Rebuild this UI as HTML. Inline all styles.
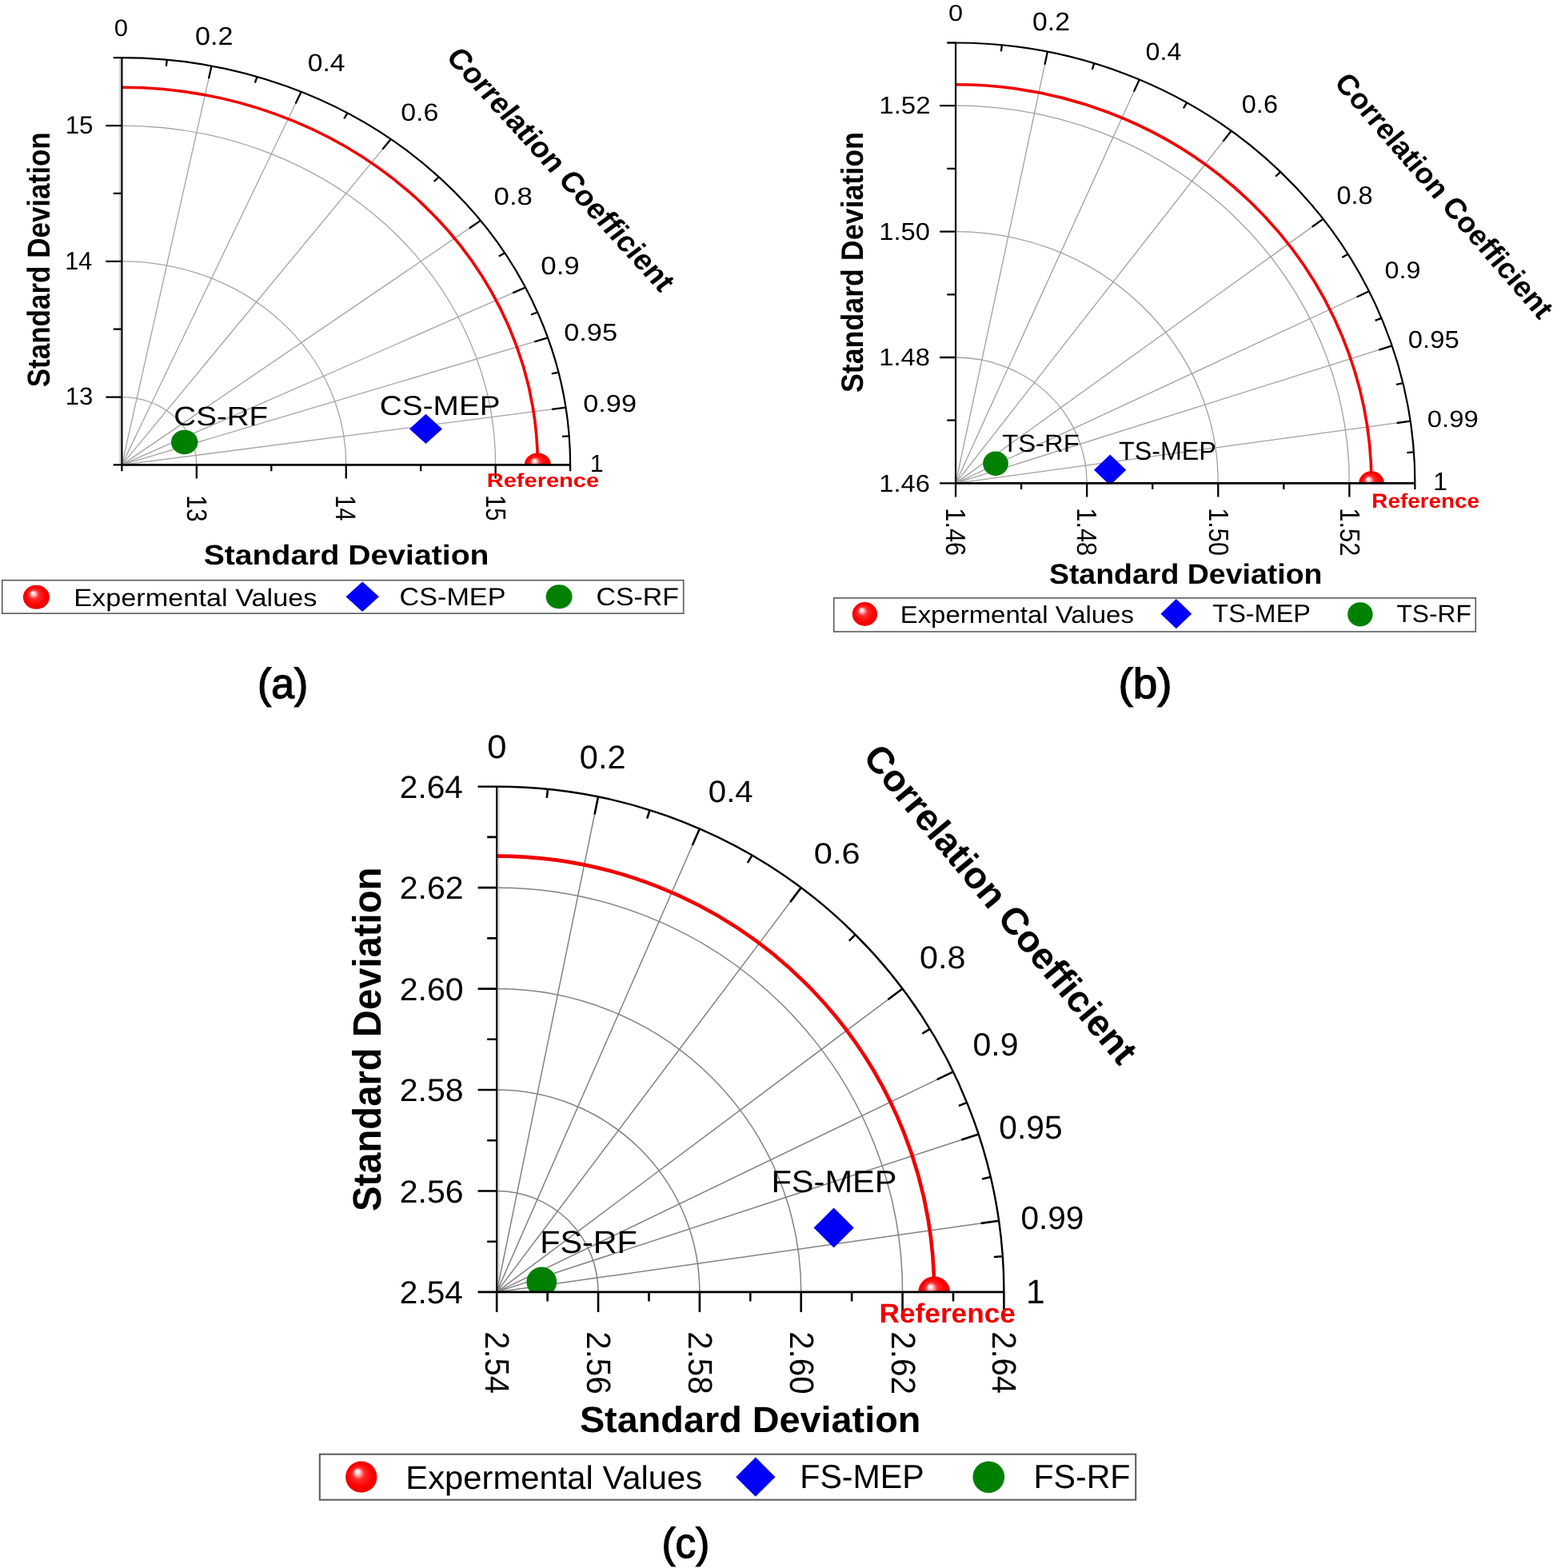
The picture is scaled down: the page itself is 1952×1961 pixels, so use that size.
<!DOCTYPE html>
<html><head><meta charset="utf-8"><title>Taylor diagrams</title>
<style>html,body{margin:0;padding:0;background:#fff;}svg{display:block;}text{text-rendering:geometricPrecision;}</style></head>
<body>
<svg width="1952" height="1961" viewBox="0 0 1952 1961">
<rect width="100%" height="100%" fill="#fff"/>
<defs><radialGradient id="sph" cx="0.5" cy="0.5" r="0.5" fx="0.36" fy="0.32"><stop offset="0" stop-color="#ffffff"/><stop offset="0.12" stop-color="#ffe0e0"/><stop offset="0.38" stop-color="#ff2a2a"/><stop offset="0.75" stop-color="#ff0000"/><stop offset="1" stop-color="#e60000"/></radialGradient></defs>
<clipPath id="clipa"><rect x="112.4" y="0" width="640.7" height="581.4"/></clipPath>
<path d="M149.8 581.4V72.21" fill="none" stroke="#d6d6d6" stroke-width="2"/>
<path d="M152.4 581.4L264.54 82.5M152.4 581.4L376.68 114.72M152.4 581.4L488.82 174.05M152.4 581.4L600.96 275.89M152.4 581.4L657.03 359.45M152.4 581.4L685.06 422.41M152.4 581.4L707.49 509.57" fill="none" stroke="#a4a4a4" stroke-width="1.3"/>
<path d="M152.4 496.53A93.45 84.86 0 0 1 245.85 581.4" fill="none" stroke="#a4a4a4" stroke-width="1.3"/>
<path d="M152.4 326.81A280.35 254.59 0 0 1 432.75 581.4" fill="none" stroke="#a4a4a4" stroke-width="1.3"/>
<path d="M152.4 157.07A467.25 424.32 0 0 1 619.65 581.4" fill="none" stroke="#a4a4a4" stroke-width="1.3"/>
<path d="M152.4 109.21A519.96 472.19 0 0 1 672.36 581.4" fill="none" stroke="#f00000" stroke-width="3.6"/>
<g clip-path="url(#clipa)">
<ellipse cx="230.7" cy="553" rx="16.74" ry="15.2" fill="#008000"/>
<path d="M512.02 536.4L532.5 517.8L552.98 536.4L532.5 555Z" fill="#0000f8"/>
<ellipse cx="672.36" cy="581.4" rx="16.52" ry="15" fill="url(#sph)"/>
</g>
<path d="M152.4 581.4V72.21" fill="none" stroke="#000" stroke-width="2.2"/>
<path d="M152.4 581.4H713.1" fill="none" stroke="#000" stroke-width="2.6"/>
<path d="M152.4 72.21A560.7 509.19 0 0 1 713.1 581.4" fill="none" stroke="#000" stroke-width="2.2"/>
<path d="M152.4 581.4H141.7M152.4 581.4V589.2M152.4 496.53H132.4M245.85 581.4V598.4M152.4 411.67H141.7M339.3 581.4V589.2M152.4 326.81H132.4M432.75 581.4V598.4M152.4 241.94H141.7M526.2 581.4V589.2M152.4 157.07H132.4M619.65 581.4V598.4M152.4 72.21H141.7M713.1 581.4V589.2M264.54 82.5L261.02 98.17M376.68 114.72L369.63 129.38M488.82 174.05L478.25 186.85M600.96 275.89L586.87 285.49M657.03 359.45L641.17 366.42M685.06 422.41L668.33 427.4M707.49 509.57L690.05 511.83M208.76 74.79L207.87 82.75M321.54 95.93L318.89 103.56M434.65 141.43L430.21 148.34M548.87 221.35L542.65 227.01M631.21 316.44L623.69 320.6M672.2 390.5L664.04 393.5M698.39 465.54L689.81 467.36M711.7 545.39L702.91 545.96" fill="none" stroke="#000" stroke-width="2.3"/>
<clipPath id="clipb"><rect x="1155.05" y="0" width="654.35" height="604.4"/></clipPath>
<path d="M1195.05 604.4L1309.92 64.63M1195.05 604.4L1424.79 99.49M1195.05 604.4L1539.66 163.68M1195.05 604.4L1654.53 273.86M1195.05 604.4L1711.97 364.27M1195.05 604.4L1740.68 432.38M1195.05 604.4L1763.66 526.69" fill="none" stroke="#a0a0a0" stroke-width="1.3"/>
<path d="M1195.05 447A164.1 157.4 0 0 1 1359.15 604.4" fill="none" stroke="#a0a0a0" stroke-width="1.3"/>
<path d="M1195.05 289.6A328.2 314.8 0 0 1 1523.25 604.4" fill="none" stroke="#a0a0a0" stroke-width="1.3"/>
<path d="M1195.05 132.2A492.3 472.2 0 0 1 1687.35 604.4" fill="none" stroke="#a0a0a0" stroke-width="1.3"/>
<path d="M1195.05 105.68A519.95 498.72 0 0 1 1715 604.4" fill="none" stroke="#f00000" stroke-width="3.6"/>
<g clip-path="url(#clipb)">
<ellipse cx="1245" cy="579.7" rx="15.85" ry="15.2" fill="#008000"/>
<path d="M1367.98 587.7L1388.1 568.4L1408.22 587.7L1388.1 607Z" fill="#0000f8"/>
<ellipse cx="1715" cy="604.4" rx="15.85" ry="15.2" fill="url(#sph)"/>
</g>
<path d="M1195.05 604.4V53.5" fill="none" stroke="#000" stroke-width="2.2"/>
<path d="M1195.05 604.4H1769.4" fill="none" stroke="#000" stroke-width="2.6"/>
<path d="M1195.05 53.5A574.35 550.9 0 0 1 1769.4 604.4" fill="none" stroke="#000" stroke-width="2.2"/>
<path d="M1195.05 604.4H1175.15M1195.05 604.4V621.4M1195.05 525.7H1184.25M1277.1 604.4V612.1M1195.05 447H1175.15M1359.15 604.4V621.4M1195.05 368.3H1184.25M1441.2 604.4V612.1M1195.05 289.6H1175.15M1523.25 604.4V621.4M1195.05 210.9H1184.25M1605.3 604.4V612.1M1195.05 132.2H1175.15M1687.35 604.4V621.4M1195.05 53.5H1184.25M1769.4 604.4V612.1M1309.92 64.63L1306.48 80.8M1424.79 99.49L1417.91 114.61M1539.66 163.68L1529.34 176.88M1654.53 273.86L1640.77 283.76M1711.97 364.27L1696.48 371.46M1740.68 432.38L1724.34 437.53M1763.66 526.69L1746.63 529.01M1252.78 56.29L1251.92 64.45M1368.31 79.16L1365.73 86.98M1484.17 128.39L1479.86 135.47M1601.18 214.85L1595.13 220.65M1685.52 317.74L1678.22 322M1727.51 397.87L1719.58 400.94M1754.33 479.05L1746.01 480.91M1767.96 565.45L1759.43 566.03" fill="none" stroke="#000" stroke-width="2.3"/>
<clipPath id="clipc"><rect x="581.2" y="0" width="714.2" height="1615.9"/></clipPath>
<path d="M623.6 1615.9V983.7" fill="none" stroke="#d6d6d6" stroke-width="2"/>
<path d="M621.2 1615.9L748.04 996.47M621.2 1615.9L874.88 1036.48M621.2 1615.9L1001.72 1110.14M621.2 1615.9L1128.56 1236.58M621.2 1615.9L1191.98 1340.33M621.2 1615.9L1223.69 1418.5M621.2 1615.9L1249.06 1526.72" fill="none" stroke="#828282" stroke-width="1.5"/>
<path d="M621.2 1489.46A126.84 126.44 0 0 1 748.04 1615.9" fill="none" stroke="#828282" stroke-width="1.5"/>
<path d="M621.2 1363.02A253.68 252.88 0 0 1 874.88 1615.9" fill="none" stroke="#828282" stroke-width="1.5"/>
<path d="M621.2 1236.58A380.52 379.32 0 0 1 1001.72 1615.9" fill="none" stroke="#828282" stroke-width="1.5"/>
<path d="M621.2 1110.14A507.36 505.76 0 0 1 1128.56 1615.9" fill="none" stroke="#828282" stroke-width="1.5"/>
<path d="M621.2 1070.63A547 545.27 0 0 1 1168.2 1615.9" fill="none" stroke="#f00000" stroke-width="4.6"/>
<g clip-path="url(#clipc)">
<ellipse cx="677.3" cy="1603.3" rx="18.86" ry="18.8" fill="#008000"/>
<path d="M1017.52 1535.5L1042.6 1510.5L1067.68 1535.5L1042.6 1560.5Z" fill="#0000f8"/>
<ellipse cx="1168.2" cy="1615.9" rx="19.81" ry="19.75" fill="url(#sph)"/>
</g>
<path d="M621.2 1615.9V983.7" fill="none" stroke="#000" stroke-width="2.2"/>
<path d="M621.2 1615.9H1255.4" fill="none" stroke="#000" stroke-width="2.8"/>
<path d="M621.2 983.7A634.2 632.2 0 0 1 1255.4 1615.9" fill="none" stroke="#000" stroke-width="2.4"/>
<path d="M621.2 1615.9H597.6M621.2 1615.9V1640.9M621.2 1552.68H609.2M684.62 1615.9V1627.4M621.2 1489.46H597.6M748.04 1615.9V1640.9M621.2 1426.24H609.2M811.46 1615.9V1627.4M621.2 1363.02H597.6M874.88 1615.9V1640.9M621.2 1299.8H609.2M938.3 1615.9V1627.4M621.2 1236.58H597.6M1001.72 1615.9V1640.9M621.2 1173.36H609.2M1065.14 1615.9V1627.4M621.2 1110.14H597.6M1128.56 1615.9V1640.9M621.2 1046.92H609.2M1191.98 1615.9V1627.4M621.2 983.7H597.6M1255.4 1615.9V1640.9M748.04 996.47L743.53 1018.52M874.88 1036.48L865.85 1057.1M1001.72 1110.14L988.18 1128.14M1128.56 1236.58L1110.5 1250.08M1191.98 1340.33L1171.67 1350.14M1223.69 1418.5L1202.25 1425.52M1249.06 1526.72L1226.71 1529.89M684.94 986.9L683.83 997.85M812.52 1013.15L809.19 1023.64M940.45 1069.64L934.89 1079.14M1069.65 1168.87L1061.84 1176.65M1162.78 1286.93L1153.35 1292.66M1209.14 1378.89L1198.91 1383.01M1238.76 1472.05L1228.02 1474.55M1253.81 1571.2L1242.81 1571.97" fill="none" stroke="#000" stroke-width="2.6"/>
<g font-family='"Liberation Sans", Arial, sans-serif'>
<text transform="matrix(1.04 0 0 1 142.76 44.8)" font-size="29.82">0</text>
<text transform="matrix(1.07 0 0 1 244.03 56.48)" font-size="31.94">0.2</text>
<text transform="matrix(1.09 0 0 1 384.65 88.59)" font-size="30.95">0.4</text>
<text transform="matrix(1.1 0 0 1 501.13 150.99)" font-size="30.95">0.6</text>
<text transform="matrix(1.13 0 0 1 617.6 255.99)" font-size="30.81">0.8</text>
<text transform="matrix(1.11 0 0 1 676.2 342.58)" font-size="31.52">0.9</text>
<text transform="matrix(1.13 0 0 1 705.23 426.3)" font-size="30.39">0.95</text>
<text transform="matrix(1.13 0 0 1 729.23 514.9)" font-size="30.39">0.99</text>
<text transform="matrix(1 0 0 1 737.69 589.5)" font-size="30.55">1</text>
<text transform="matrix(1 0 0 1 81.65 167.29)" font-size="31.4">15</text>
<text transform="matrix(0.97 0 0 1 81.29 336.6)" font-size="31.56">14</text>
<text transform="matrix(1.01 0 0 1 81.66 506.09)" font-size="30.81">13</text>
<text transform="matrix(0 1 -1.18 0 233.75 619.36)" font-size="29.82">13</text>
<text transform="matrix(0 1 -1.23 0 420.2 619.14)" font-size="28.78">14</text>
<text transform="matrix(0 1 -1.2 0 608.15 619.11)" font-size="29.15">15</text>
<text transform="matrix(0 -1 1.13 0 62.21 484.35)" font-size="35.03" font-weight="bold">Standard Deviation</text>
<text transform="matrix(1.12 0 0 1 254.63 706.05)" font-size="34.97" font-weight="bold">Standard Deviation</text>
<text transform="matrix(0.7031 0.7696 -0.8474 0.6385 556.6030 71.9941)" font-size="35.54" font-weight="bold">Correlation Coefficient</text>
<text transform="matrix(1.15 0 0 1 217.37 532.37)" font-size="33.5">CS-RF</text>
<text transform="matrix(1.13 0 0 1 474.76 518.96)" font-size="34.35">CS-MEP</text>
<text transform="matrix(1.2 0 0 1 608.64 608.96)" font-size="24.22" font-weight="bold" fill="#f00000">Reference</text>
<rect x="2.7" y="725.7" width="852" height="41.5" fill="none" stroke="#5a5a5a" stroke-width="1.6"/>
<ellipse cx="45.4" cy="746.8" rx="16.52" ry="15" fill="url(#sph)"/>
<path d="M432.5 746.3L453.2 727.5L473.9 746.3L453.2 765.1Z" fill="#0000f8"/>
<ellipse cx="699.1" cy="746.3" rx="16.52" ry="15" fill="#008000"/>
<text transform="matrix(1.11 0 0 1 92.17 757.5)" font-size="30.9">Expermental Values</text>
<text transform="matrix(1.09 0 0 1 499.49 756.99)" font-size="31.38">CS-MEP</text>
<text transform="matrix(1.08 0 0 1 745.51 756.99)" font-size="31.38">CS-RF</text>
<text transform="matrix(0.98 0 0 1 322.02 873.28)" font-size="52.87" stroke="#000" stroke-width="1.32">(a)</text>
<text transform="matrix(1.13 0 0 1 1186.09 26.31)" font-size="28.83">0</text>
<text transform="matrix(1.04 0 0 1 1291.06 38.18)" font-size="32.37">0.2</text>
<text transform="matrix(1.04 0 0 1 1432.61 74.59)" font-size="30.95">0.4</text>
<text transform="matrix(1.03 0 0 1 1552.81 140.78)" font-size="31.52">0.6</text>
<text transform="matrix(1.03 0 0 1 1671.51 254.78)" font-size="31.52">0.8</text>
<text transform="matrix(1.08 0 0 1 1731.4 347.7)" font-size="29.96">0.9</text>
<text transform="matrix(1.08 0 0 1 1760.78 434.7)" font-size="30.39">0.95</text>
<text transform="matrix(1.12 0 0 1 1784.78 533.61)" font-size="29.4">0.99</text>
<text transform="matrix(1 0 0 1 1792.2 613.2)" font-size="31.85">1</text>
<text transform="matrix(1.07 0 0 1 1099.35 614.59)" font-size="30.53">1.46</text>
<text transform="matrix(1.07 0 0 1 1099.35 457.19)" font-size="30.53">1.48</text>
<text transform="matrix(1.07 0 0 1 1099.35 299.79)" font-size="30.53">1.50</text>
<text transform="matrix(1.08 0 0 1 1099.34 142.39)" font-size="30.53">1.52</text>
<text transform="matrix(0 1 -1.13 0 1183.3 635.29)" font-size="30.75">1.46</text>
<text transform="matrix(0 1 -1.13 0 1347.4 635.29)" font-size="30.75">1.48</text>
<text transform="matrix(0 1 -1.13 0 1511.5 635.3)" font-size="30.67">1.50</text>
<text transform="matrix(0 1 -1.13 0 1675.6 635.28)" font-size="30.88">1.52</text>
<text transform="matrix(0 -1 1.08 0 1079.41 491.07)" font-size="35.78" font-weight="bold">Standard Deviation</text>
<text transform="matrix(1.06 0 0 1 1311.88 729.65)" font-size="35.37" font-weight="bold">Standard Deviation</text>
<text transform="matrix(0.6670 0.7686 -0.8013 0.6397 1667.3734 104.0013)" font-size="35.83" font-weight="bold">Correlation Coefficient</text>
<text transform="matrix(1.06 0 0 1 1253.16 565.49)" font-size="30.95">TS-RF</text>
<text transform="matrix(1 0 0 1 1399.07 574.88)" font-size="32.23">TS-MEP</text>
<text transform="matrix(1.1 0 0 1 1715.32 635.15)" font-size="25.31" font-weight="bold" fill="#f00000">Reference</text>
<rect x="1042.7" y="747.9" width="802.6" height="42.1" fill="none" stroke="#5a5a5a" stroke-width="1.6"/>
<ellipse cx="1081.4" cy="768" rx="15.64" ry="15" fill="url(#sph)"/>
<path d="M1451.41 767.7L1470.8 749.1L1490.19 767.7L1470.8 786.3Z" fill="#0000f8"/>
<ellipse cx="1700.9" cy="768.3" rx="15.74" ry="15.1" fill="#008000"/>
<text transform="matrix(1.09 0 0 1 1125.69 778.7)" font-size="30.21">Expermental Values</text>
<text transform="matrix(1.02 0 0 1 1516.37 778.48)" font-size="31.8">TS-MEP</text>
<text transform="matrix(1.03 0 0 1 1746.38 778.09)" font-size="30.81">TS-RF</text>
<text transform="matrix(1.04 0 0 1 1398.41 873.28)" font-size="52.87" stroke="#000" stroke-width="1.27">(b)</text>
<text transform="matrix(1.06 0 0 1 609.26 948.19)" font-size="41.13">0</text>
<text transform="matrix(1.01 0 0 1 724.84 960.69)" font-size="41.13">0.2</text>
<text transform="matrix(1.05 0 0 1 885.79 1002.62)" font-size="38.3">0.4</text>
<text transform="matrix(1.13 0 0 1 1017.84 1079.53)" font-size="36.75">0.6</text>
<text transform="matrix(1.04 0 0 1 1149.94 1210.6)" font-size="39.72">0.8</text>
<text transform="matrix(1.02 0 0 1 1216.56 1319.7)" font-size="40.14">0.9</text>
<text transform="matrix(0.99 0 0 1 1249.37 1424.29)" font-size="41.13">0.95</text>
<text transform="matrix(1 0 0 1 1276.38 1537.29)" font-size="40.57">0.99</text>
<text transform="matrix(1 0 0 1 1282.93 1629.6)" font-size="42.62">1</text>
<text transform="matrix(1.02 0 0 1 499.77 1630.1)" font-size="39.86">2.54</text>
<text transform="matrix(1.03 0 0 1 499.75 1503.66)" font-size="39.86">2.56</text>
<text transform="matrix(1.03 0 0 1 499.75 1377.22)" font-size="39.86">2.58</text>
<text transform="matrix(1.03 0 0 1 499.75 1250.78)" font-size="39.86">2.60</text>
<text transform="matrix(1.03 0 0 1 499.74 1124.34)" font-size="39.86">2.62</text>
<text transform="matrix(1.02 0 0 1 499.77 997.9)" font-size="39.86">2.64</text>
<text transform="matrix(0 1 -1.06 0 607.22 1665.2)" font-size="40.05">2.54</text>
<text transform="matrix(0 1 -1.05 0 734.06 1665.18)" font-size="40.38">2.56</text>
<text transform="matrix(0 1 -1.05 0 860.9 1665.18)" font-size="40.38">2.58</text>
<text transform="matrix(0 1 -1.05 0 987.74 1665.19)" font-size="40.27">2.60</text>
<text transform="matrix(0 1 -1.05 0 1114.58 1665.17)" font-size="40.54">2.62</text>
<text transform="matrix(0 1 -1.06 0 1241.42 1665.2)" font-size="40.05">2.64</text>
<text transform="matrix(0 -1 1.05 0 475.5 1515.02)" font-size="47.24" font-weight="bold">Standard Deviation</text>
<text transform="matrix(1.03 0 0 1 724.89 1791.15)" font-size="45.44" font-weight="bold">Standard Deviation</text>
<text transform="matrix(0.6413 0.7690 -0.7714 0.6393 1077.8473 947.7337)" font-size="46.64" font-weight="bold">Correlation Coefficient</text>
<text transform="matrix(1.04 0 0 1 675.19 1567.2)" font-size="39.72">FS-RF</text>
<text transform="matrix(1.07 0 0 1 964.46 1491.01)" font-size="38.87">FS-MEP</text>
<text transform="matrix(1.04 0 0 1 1099.53 1654.46)" font-size="33.88" font-weight="bold" fill="#f00000">Reference</text>
<rect x="399.8" y="1818.7" width="1020.4" height="57" fill="none" stroke="#5a5a5a" stroke-width="2"/>
<ellipse cx="451.8" cy="1847.2" rx="19.66" ry="19.6" fill="url(#sph)"/>
<path d="M920.12 1847.2L944.8 1822.6L969.48 1847.2L944.8 1871.8Z" fill="#0000f8"/>
<ellipse cx="1236.3" cy="1847.2" rx="19.86" ry="19.8" fill="#008000"/>
<text transform="matrix(1.02 0 0 1 507.27 1861.5)" font-size="40.97">Expermental Values</text>
<text transform="matrix(0.98 0 0 1 1000.3 1860.78)" font-size="41.98">FS-MEP</text>
<text transform="matrix(0.98 0 0 1 1292.41 1860.78)" font-size="41.98">FS-RF</text>
<text transform="matrix(0.97 0 0 1 827.45 1947.98)" font-size="52.87" stroke="#000" stroke-width="1.32">(c)</text>
</g>
</svg>
</body></html>
